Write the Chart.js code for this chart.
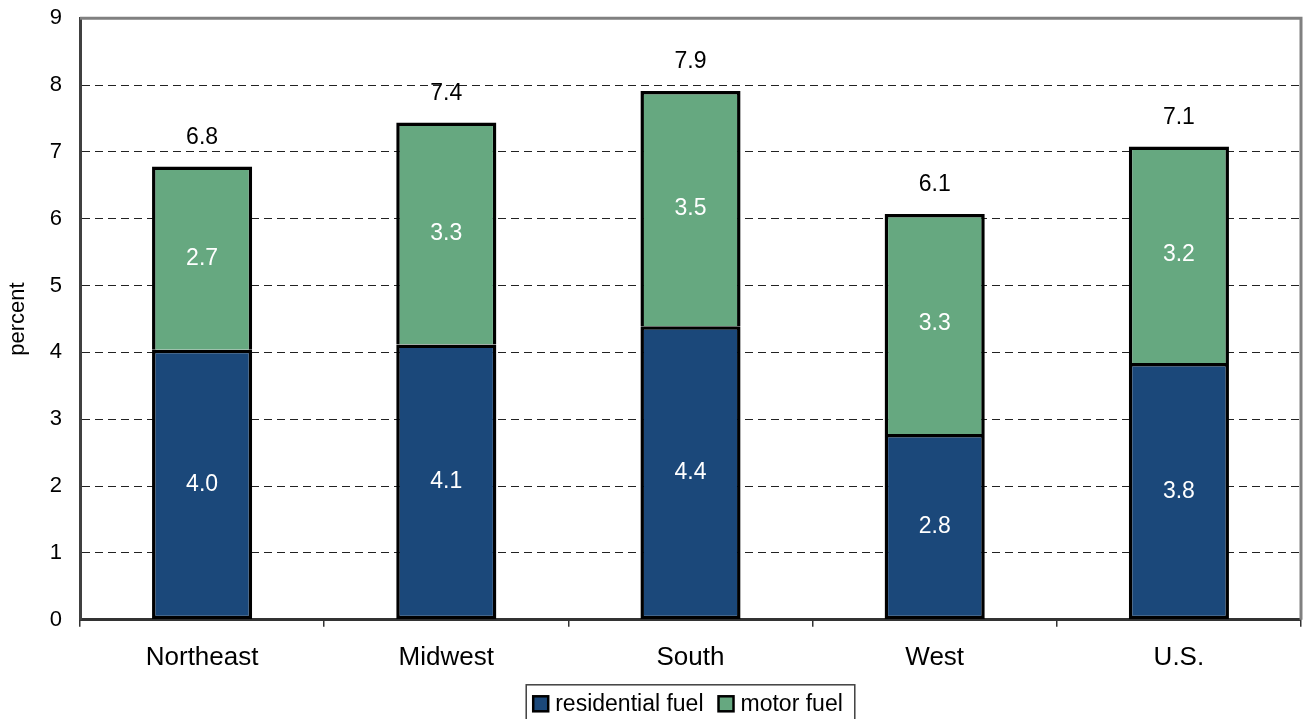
<!DOCTYPE html>
<html>
<head>
<meta charset="utf-8">
<script src="https://cdn.jsdelivr.net/npm/chart.js@4"></script>
<style>
    html, body { margin: 0; padding: 0; background: #fff; overflow: hidden; }
    #myChart { display: block; margin-top: -13px; }
</style>
</head>
<body>
<canvas id="myChart" width="1304" height="732"></canvas>
<script>
// Regioni e quote in percentuale
const regions = ["Northeast", "Midwest", "South", "West", "U.S."];
const residentialFuel = [4.04, 4.12, 4.39, 2.78, 3.84];
const motorFuel = [2.74, 3.32, 3.52, 3.29, 3.24];
const seriesNames = ["residential fuel", "motor fuel"];
const yMin = 0, yMax = 9, yStep = 1;

const FONT = "'Liberation Sans', Arial, sans-serif";
const BLUE = "#1b487a";
const GREEN = "#66a880";

// Etichette dei valori dentro le barre e totale sopra
const valueLabels = {
    id: 'valueLabels',
    afterDatasetsDraw(chart) {
        const ctx = chart.ctx;
        ctx.save();
        ctx.textAlign = 'center';
        ctx.textBaseline = 'middle';
        ctx.font = `23px ${FONT}`;
        ctx.fillStyle = '#fff';
        chart.data.datasets.forEach((ds, i) => {
            chart.getDatasetMeta(i).data.forEach((bar, j) => {
                ctx.fillText(ds.data[j].toFixed(1), bar.x, (bar.y + bar.base) / 2);
            });
        });
        const yScale = chart.scales.y;
        ctx.fillStyle = '#000';
        chart.getDatasetMeta(1).data.forEach((bar, j) => {
            const total = residentialFuel[j] + motorFuel[j];
            ctx.fillText(total.toFixed(1), bar.x, yScale.getPixelForValue(total) - 29);
        });
        ctx.restore();
    }
};

// Bordo superiore/destro del grafico e legenda in basso con cornice
const frame = {
    id: 'frame',
    afterDraw(chart) {
        const { ctx, chartArea: a } = chart;
        ctx.save();
        ctx.strokeStyle = '#808080';
        ctx.lineWidth = 3;
        ctx.beginPath();
        ctx.moveTo(a.left, a.top);
        ctx.lineTo(a.right, a.top);
        ctx.lineTo(a.right, a.bottom);
        ctx.stroke();

        ctx.font = `23px ${FONT}`;
        const colors = [BLUE, GREEN];
        const box = 15, gap = 7, spacing = 15;
        const widths = seriesNames.map(t => ctx.measureText(t).width);
        const inner = widths.reduce((s, w) => s + box + gap + w, 0) + spacing;
        const boxW = inner + 7 + 12;
        const left = (a.left + a.right) / 2 - boxW / 2;
        const top = a.bottom + 65;
        const cy = a.bottom + 84;

        ctx.strokeStyle = '#404040';
        ctx.lineWidth = 1.5;
        ctx.strokeRect(left, top, boxW, chart.height - top + 10);

        let x = left + 7;
        ctx.textAlign = 'left';
        ctx.textBaseline = 'middle';
        seriesNames.forEach((name, i) => {
            ctx.fillStyle = colors[i];
            ctx.fillRect(x, cy - box / 2, box, box);
            ctx.strokeStyle = '#000';
            ctx.lineWidth = 2.5;
            ctx.strokeRect(x, cy - box / 2, box, box);
            x += box + gap;
            ctx.fillStyle = '#000';
            ctx.fillText(name, x, cy + 1);
            x += widths[i] + spacing;
        });
        ctx.restore();
    }
};

new Chart("myChart", {
    type: "bar",
    data: {
        labels: regions,
        datasets: [{
            label: seriesNames[0],
            data: residentialFuel,
            backgroundColor: BLUE,
            borderColor: "#000",
            borderWidth: 3.5,
            borderSkipped: false,
        },
        {
            label: seriesNames[1],
            data: motorFuel,
            backgroundColor: GREEN,
            borderColor: "#000",
            borderWidth: 3.5,
            borderSkipped: 'bottom',
        }],
    },
    options: {
        responsive: false,
        devicePixelRatio: 1,
        animation: false,
        layout: { autoPadding: false, padding: { top: 5, right: 3, left: 0, bottom: 31 } },
        datasets: { bar: { barPercentage: 0.41, categoryPercentage: 1 } },
        scales: {
            x: {
                stacked: true,
                offset: true,
                grid: { offset: true, drawOnChartArea: false, tickLength: 7, tickColor: '#333', lineWidth: 1.5 },
                border: { color: '#333', width: 3 },
                ticks: { color: '#000', font: { family: FONT, size: 26 }, padding: 15 },
            },
            y: {
                stacked: true,
                min: yMin,
                max: yMax,
                ticks: { stepSize: yStep, color: '#000', font: { family: FONT, size: 22 }, padding: 18 },
                grid: { color: '#222', lineWidth: 1, drawTicks: false },
                border: { color: '#404040', width: 3, dash: [8, 5] },
                title: { display: true, text: 'percent', color: '#000', font: { family: FONT, size: 22 }, padding: { top: 5, bottom: 0 } },
                afterFit(scale) { scale.width = 80; },
            },
        },
        plugins: {
            legend: { display: false },
            tooltip: { enabled: false },
        },
    },
    plugins: [valueLabels, frame],
});
</script>
</body>
</html>
